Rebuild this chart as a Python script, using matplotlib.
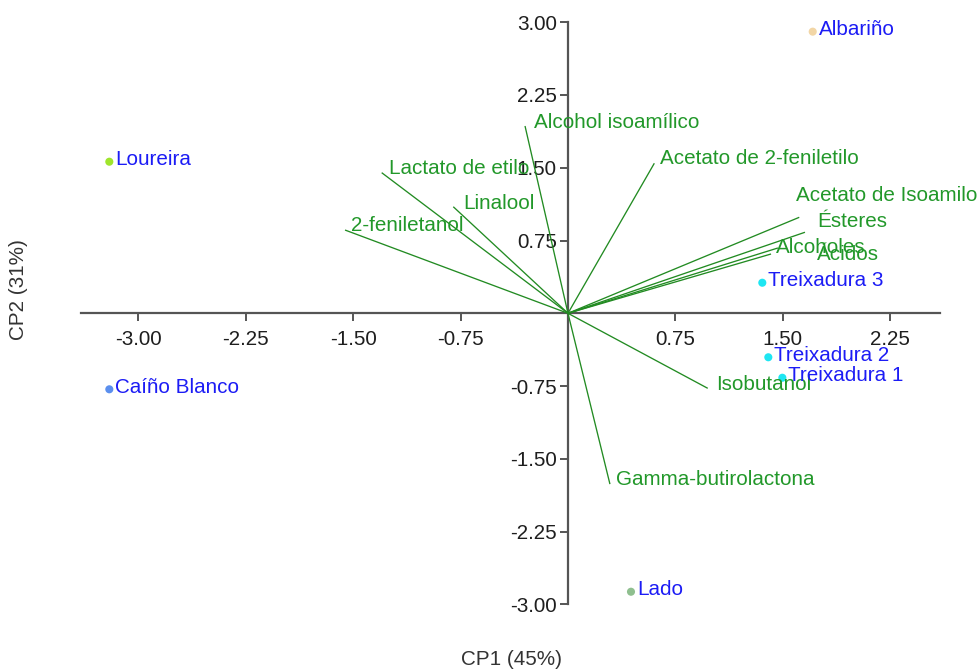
import matplotlib
matplotlib.use("Agg")
import matplotlib.pyplot as plt
from matplotlib.ticker import FixedLocator, FuncFormatter

plt.rcParams['font.family'] = ['Liberation Sans', 'DejaVu Sans']

# Sample scores on the first two principal components
wines = ["Albariño", "Loureira", "Caíño Blanco", "Treixadura 3",
         "Treixadura 2", "Treixadura 1", "Lado"]
cp1_scores = [1.709, -3.203, -3.203, 1.357, 1.399, 1.497, 0.440]
cp2_scores = [2.902, 1.562, -0.783, 0.315, -0.453, -0.664, -2.869]
wine_colors = ["#f2d6a6", "#9fe52c", "#5b8fee", "#1ee6f2",
               "#1ee6f2", "#1ee6f2", "#8fbf8f"]

# Variable loadings
variables = ["Alcohol isoamílico", "Acetato de 2-feniletilo", "Acetato de Isoamilo",
             "Ésteres", "Alcoholes", "Ácidos", "Lactato de etilo", "Linalool",
             "2-feniletanol", "Isobutanol", "Gamma-butirolactona"]
cp1_loadings = [-0.300, 0.603, 1.615, 1.655, 1.466, 1.418, -1.301, -0.801,
                -1.557, 0.976, 0.293]
cp2_loadings = [1.930, 1.546, 0.989, 0.835, 0.673, 0.611, 1.449, 1.098,
                0.858, -0.773, -1.760]

x_ticks = [-3.00, -2.25, -1.50, -0.75, 0.75, 1.50, 2.25]
y_ticks = [3.00, 2.25, 1.50, 0.75, -0.75, -1.50, -2.25, -3.00]
x_title = "CP1 (45%)"
y_title = "CP2 (31%)"

# label placement (pixel offsets from the end of each loading line, y up)
var_label_offsets = [(9, -2), (6, -1), (-3, 16.5), (12, 5.5), (-2, -5), (46, -6),
                     (7, -1.5), (10, -2.3), (6, -1), (8, -2), (6, -1)]

FS = 14.85

W, H = 980, 669
fig = plt.figure(figsize=(W / 100, H / 100), dpi=100)
x0, x1 = -3.40, 2.60
y0, y1 = -3.0, 3.0
px_left, px_right = 81.1, 940.3
px_top, px_bottom = 22.15, 604.45
ax = fig.add_axes([px_left / W, (H - px_bottom) / H,
                   (px_right - px_left) / W, (px_bottom - px_top) / H])
ax.set_xlim(x0, x1)
ax.set_ylim(y0, y1)
ax.patch.set_alpha(0)

axis_color = "#555555"
for side in ("top", "right"):
    ax.spines[side].set_visible(False)
ax.spines["left"].set_position(("data", 0))
ax.spines["bottom"].set_position(("data", 0))
for side in ("left", "bottom"):
    ax.spines[side].set_color(axis_color)
    ax.spines[side].set_linewidth(1.6)
    ax.spines[side].set_zorder(1)

fmt = FuncFormatter(lambda v, p: f"{v:.2f}")
ax.xaxis.set_major_locator(FixedLocator(x_ticks))
ax.yaxis.set_major_locator(FixedLocator(y_ticks))
ax.xaxis.set_major_formatter(fmt)
ax.yaxis.set_major_formatter(fmt)
ax.tick_params(axis="x", direction="out", length=6, width=1.4, color=axis_color,
               labelsize=FS, labelcolor="#1e1e1e", pad=6)
ax.tick_params(axis="y", direction="out", length=6, width=1.4, color=axis_color,
               labelsize=FS, labelcolor="#1e1e1e", pad=2)

green_line = "#228b22"
green_text = "#22982a"
for vx, vy, name, off in zip(cp1_loadings, cp2_loadings, variables, var_label_offsets):
    ax.plot([0, vx], [0, vy], color=green_line, lw=0.95, zorder=2,
            solid_capstyle="butt")
    ax.annotate(name, (vx, vy), xytext=off, textcoords="offset pixels",
                ha="left", va="baseline", fontsize=FS, color=green_text, zorder=4)

ax.scatter(cp1_scores, cp2_scores, s=34, c=wine_colors, edgecolors="none", zorder=3)
for sx, sy, name in zip(cp1_scores, cp2_scores, wines):
    ax.annotate(name, (sx, sy), xytext=(6, -3.5), textcoords="offset pixels",
                ha="left", va="baseline", fontsize=FS, color="#1c1cf5", zorder=5)

fig.text(511 / W, 1 - 665 / H, x_title, ha="center", va="baseline",
         fontsize=FS, color="#333333")
fig.text(19 / W, 1 - 290 / H, y_title, ha="center", va="center", rotation=90,
         fontsize=FS, color="#333333")

fig.savefig("out.png", dpi=100, facecolor="white")
